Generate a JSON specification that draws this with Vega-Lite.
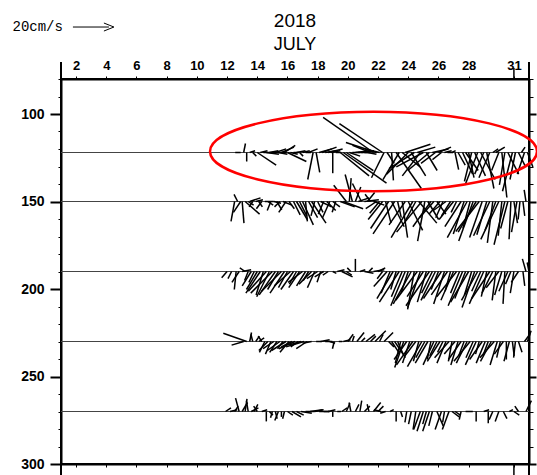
{
  "$schema": "https://vega.github.io/schema/vega-lite/v6.json",
  "width": 468,
  "height": 385,
  "autosize": {"type": "none"},
  "padding": {"left": 61, "top": 79, "right": 8, "bottom": 11},
  "background": "white",
  "config": {
    "view": {"stroke": "black", "strokeWidth": 2},
    "axis": {"grid": false, "labelOverlap": false, "labelFlush": false, "domainColor": "black", "domainWidth": 2, "tickColor": "black", "labelColor": "black"}
  },
  "title": {
    "text": "2018",
    "subtitle": "JULY",
    "anchor": "middle",
    "font": "Liberation Sans",
    "fontSize": 19,
    "fontWeight": "normal",
    "color": "black",
    "subtitleFont": "Liberation Sans",
    "subtitleFontSize": 18,
    "subtitleColor": "black",
    "subtitlePadding": 5,
    "offset": -34
  },
  "datasets": {
    "depths": [{"d": 122}, {"d": 150}, {"d": 190}, {"d": 230}, {"d": 270}],
    "key": [{"t": 0.79, "d": 50.3, "u": 20, "v": 0, "label": "20cm/s"}],
    "sticks": [
      {"t":11.9,"d":122,"u":-3,"v":0},{"t":12.1,"d":122,"u":1,"v":5},{"t":12.3,"d":122,"u":0,"v":-5},{"t":12.5,"d":122,"u":3,"v":1},{"t":12.7,"d":122,"u":2,"v":-2},
      {"t":13.0,"d":122,"u":10.5,"v":-7},{"t":13.2,"d":122,"u":4,"v":1},{"t":13.4,"d":122,"u":6,"v":0},{"t":13.6,"d":122,"u":7,"v":-1},{"t":13.8,"d":122,"u":5,"v":1},
      {"t":14.0,"d":122,"u":8,"v":0},{"t":14.2,"d":122,"u":6,"v":2},{"t":14.4,"d":122,"u":5,"v":-1},{"t":14.6,"d":122,"u":7,"v":3},{"t":14.8,"d":122,"u":6,"v":4},
      {"t":15.0,"d":122,"u":10.5,"v":-5},{"t":15.2,"d":122,"u":4,"v":-1},{"t":15.4,"d":122,"u":3,"v":0},{"t":15.6,"d":122,"u":5,"v":1},{"t":15.8,"d":122,"u":2,"v":-2},
      {"t":16.0,"d":122,"u":4,"v":1},{"t":16.2,"d":122,"u":3,"v":0},{"t":16.4,"d":122,"u":5,"v":2},{"t":16.7,"d":122,"u":-3,"v":-15},{"t":16.9,"d":122,"u":2,"v":-11},
      {"t":17.1,"d":122,"u":7,"v":2},{"t":17.3,"d":122,"u":8,"v":3},{"t":17.5,"d":122,"u":6,"v":1},{"t":17.7,"d":122,"u":8,"v":2},{"t":17.9,"d":122,"u":5,"v":1},
      {"t":18.0,"d":122,"u":0,"v":-11.5},{"t":18.2,"d":122,"u":3,"v":0},{"t":18.5,"d":122,"u":16,"v":-13},{"t":18.7,"d":122,"u":24,"v":-17},{"t":18.9,"d":122,"u":15,"v":-10},
      {"t":19.1,"d":122,"u":6,"v":-2},{"t":19.3,"d":122,"u":4,"v":0},{"t":19.5,"d":122,"u":8,"v":1},{"t":19.7,"d":122,"u":5,"v":0},{"t":19.9,"d":122,"u":7,"v":1},
      {"t":20.1,"d":122,"u":3,"v":0},{"t":20.3,"d":122,"u":5,"v":-1},{"t":20.5,"d":122,"u":-10,"v":4},{"t":20.7,"d":122,"u":-28,"v":19.5},{"t":20.9,"d":122,"u":-17,"v":5.6},
      {"t":21.1,"d":122,"u":-8,"v":2},{"t":21.3,"d":122,"u":-24,"v":16},{"t":21.4,"d":122,"u":-7,"v":-14},{"t":21.6,"d":122,"u":4,"v":-6},{"t":21.9,"d":122,"u":1,"v":-15.5},
      {"t":22.2,"d":122,"u":14,"v":-20},{"t":22.4,"d":122,"u":-9,"v":-15},{"t":22.6,"d":122,"u":10,"v":-8},{"t":22.8,"d":122,"u":14,"v":4.6},{"t":23.0,"d":122,"u":-12,"v":-12},
      {"t":23.2,"d":122,"u":8,"v":-13},{"t":23.4,"d":122,"u":-14,"v":-9},{"t":23.6,"d":122,"u":10,"v":3},{"t":23.8,"d":122,"u":-10,"v":-13},{"t":24.0,"d":122,"u":-15,"v":-8},
      {"t":24.2,"d":122,"u":6,"v":-10},{"t":24.4,"d":122,"u":-12,"v":-10},{"t":24.6,"d":122,"u":9,"v":2},{"t":24.8,"d":122,"u":-8,"v":-6},{"t":25.0,"d":122,"u":7,"v":3},
      {"t":25.2,"d":122,"u":-5,"v":-4},{"t":25.4,"d":122,"u":4,"v":1},{"t":25.6,"d":122,"u":3,"v":0},{"t":25.9,"d":122,"u":2,"v":1},{"t":26.1,"d":122,"u":2,"v":-9.5},
      {"t":26.3,"d":122,"u":4,"v":-7},{"t":26.6,"d":122,"u":5.6,"v":-12},{"t":26.8,"d":122,"u":7,"v":-10},{"t":27.0,"d":122,"u":3,"v":-14},{"t":27.2,"d":122,"u":-4,"v":-16},
      {"t":27.4,"d":122,"u":6,"v":-13},{"t":27.6,"d":122,"u":-7,"v":-18},{"t":27.8,"d":122,"u":8,"v":-15},{"t":28.0,"d":122,"u":-5,"v":-12},{"t":28.2,"d":122,"u":4,"v":-20},
      {"t":28.4,"d":122,"u":-6,"v":-14},{"t":28.6,"d":122,"u":3,"v":2},{"t":28.8,"d":122,"u":5,"v":3},{"t":29.0,"d":122,"u":-4,"v":-10},{"t":29.2,"d":122,"u":2.8,"v":-25},
      {"t":29.4,"d":122,"u":-3,"v":-18},{"t":29.6,"d":122,"u":6,"v":-12},{"t":29.9,"d":122,"u":-5.5,"v":-21.5},{"t":30.1,"d":122,"u":-3,"v":-15},{"t":30.3,"d":122,"u":4,"v":-8},
      {"t":30.5,"d":122,"u":2,"v":3},{"t":30.7,"d":122,"u":-4,"v":-12},{"t":30.9,"d":122,"u":3,"v":-8},

      {"t":11.5,"d":150,"u":-2,"v":-11},{"t":11.7,"d":150,"u":-2,"v":4},{"t":11.9,"d":150,"u":-4,"v":-6},{"t":12.0,"d":150,"u":1,"v":-12},{"t":12.2,"d":150,"u":8,"v":-7},
      {"t":12.4,"d":150,"u":3,"v":-2},{"t":12.5,"d":150,"u":6,"v":2},{"t":12.7,"d":150,"u":-2,"v":-3},{"t":12.9,"d":150,"u":4,"v":1},{"t":13.1,"d":150,"u":2,"v":-3},
      {"t":13.3,"d":150,"u":-3,"v":-4},{"t":13.5,"d":150,"u":5,"v":0},{"t":13.7,"d":150,"u":3,"v":-2},{"t":13.9,"d":150,"u":-2,"v":-5},{"t":14.1,"d":150,"u":4,"v":-1},
      {"t":14.3,"d":150,"u":2.7,"v":-4.6},{"t":14.5,"d":150,"u":-3,"v":-3},{"t":14.7,"d":150,"u":5,"v":-2},{"t":14.9,"d":150,"u":-4,"v":-6},{"t":15.1,"d":150,"u":3,"v":-4},
      {"t":15.4,"d":150,"u":3.7,"v":-7.4},{"t":15.6,"d":150,"u":6,"v":-10},{"t":15.8,"d":150,"u":4,"v":-8},{"t":16.0,"d":150,"u":6,"v":-13},{"t":16.2,"d":150,"u":1,"v":-11},
      {"t":16.4,"d":150,"u":5,"v":-9},{"t":16.6,"d":150,"u":8,"v":-12},{"t":16.8,"d":150,"u":-2,"v":-8},{"t":17.0,"d":150,"u":3,"v":-6},{"t":17.2,"d":150,"u":6,"v":-3},
      {"t":17.4,"d":150,"u":-3,"v":-7},{"t":17.6,"d":150,"u":5,"v":-5},{"t":17.8,"d":150,"u":-4,"v":-9},{"t":18.0,"d":150,"u":4,"v":-3},{"t":18.2,"d":150,"u":-2,"v":-6},
      {"t":18.5,"d":150,"u":8,"v":-3},{"t":18.7,"d":150,"u":11,"v":-4},{"t":18.9,"d":150,"u":-7,"v":9},{"t":19.1,"d":150,"u":1,"v":13},{"t":19.3,"d":150,"u":-4,"v":15},
      {"t":19.5,"d":150,"u":3,"v":8},{"t":19.7,"d":150,"u":6,"v":2},{"t":19.9,"d":150,"u":-5,"v":10},{"t":20.1,"d":150,"u":8,"v":1},{"t":20.3,"d":150,"u":4,"v":5},
      {"t":20.5,"d":150,"u":-3,"v":4},{"t":20.7,"d":150,"u":6,"v":-2},{"t":20.9,"d":150,"u":-6,"v":-4},{"t":21.1,"d":150,"u":-5.5,"v":-6.5},{"t":21.3,"d":150,"u":-8,"v":-10},
      {"t":21.5,"d":150,"u":3,"v":-12},{"t":21.7,"d":150,"u":-10,"v":-15},{"t":21.9,"d":150,"u":7,"v":-14},{"t":22.1,"d":150,"u":-12,"v":-18},{"t":22.3,"d":150,"u":2,"v":-9},
      {"t":22.6,"d":150,"u":3,"v":-20},{"t":22.8,"d":150,"u":-9,"v":-13},{"t":23.0,"d":150,"u":8,"v":-16},{"t":23.3,"d":150,"u":-12,"v":-20},{"t":23.5,"d":150,"u":-6,"v":-11},
      {"t":23.7,"d":150,"u":10,"v":-12},{"t":23.9,"d":150,"u":-14,"v":-17},{"t":24.1,"d":150,"u":-4,"v":-22},{"t":24.3,"d":150,"u":6,"v":-10},{"t":24.5,"d":150,"u":-10,"v":-14},
      {"t":24.7,"d":150,"u":-8,"v":-9},{"t":24.9,"d":150,"u":5,"v":-7},{"t":25.1,"d":150,"u":-6,"v":-7},{"t":25.3,"d":150,"u":-4,"v":-9},{"t":25.5,"d":150,"u":-7,"v":-5},
      {"t":25.8,"d":150,"u":-5,"v":-8},{"t":26.0,"d":150,"u":-8,"v":-10},{"t":26.2,"d":150,"u":-3,"v":-6},{"t":26.5,"d":150,"u":-9,"v":-14},{"t":26.7,"d":150,"u":-6,"v":-18},
      {"t":26.9,"d":150,"u":-11,"v":-20},{"t":27.1,"d":150,"u":-4,"v":-15},{"t":27.3,"d":150,"u":-8,"v":-22},{"t":27.5,"d":150,"u":-10,"v":-17},{"t":27.7,"d":150,"u":-13,"v":-16.7},
      {"t":27.9,"d":150,"u":-7,"v":-20},{"t":28.2,"d":150,"u":-5.5,"v":-18.5},{"t":28.4,"d":150,"u":-9,"v":-19},{"t":28.6,"d":150,"u":-3,"v":-23},{"t":28.8,"d":150,"u":-6,"v":-16},
      {"t":29.0,"d":150,"u":-10,"v":-21},{"t":29.2,"d":150,"u":-2,"v":-19},{"t":29.4,"d":150,"u":-6,"v":-24},{"t":29.6,"d":150,"u":-4,"v":-15},{"t":29.8,"d":150,"u":-1,"v":-21},
      {"t":30.0,"d":150,"u":2,"v":-12},{"t":30.2,"d":150,"u":-3,"v":-17},{"t":30.4,"d":150,"u":-1,"v":-10},{"t":30.6,"d":150,"u":1,"v":-8},{"t":30.8,"d":150,"u":-1,"v":6.5},
      {"t":31.0,"d":150,"u":0,"v":10},

      {"t":11.0,"d":190,"u":-3,"v":-3.5},{"t":11.3,"d":190,"u":-2,"v":-4},{"t":11.6,"d":190,"u":-1,"v":-10},{"t":11.8,"d":190,"u":-4,"v":-6},{"t":12.0,"d":190,"u":5,"v":1},
      {"t":12.2,"d":190,"u":-3,"v":2},{"t":12.4,"d":190,"u":-2,"v":-5},{"t":12.6,"d":190,"u":-5,"v":-8},{"t":12.8,"d":190,"u":-3,"v":-6},{"t":13.0,"d":190,"u":-6,"v":-10},
      {"t":13.2,"d":190,"u":-8,"v":-12},{"t":13.4,"d":190,"u":-4,"v":-13},{"t":13.6,"d":190,"u":-10,"v":-11},{"t":13.8,"d":190,"u":-7,"v":-14},{"t":14.0,"d":190,"u":-12,"v":-12},
      {"t":14.2,"d":190,"u":-9,"v":-13},{"t":14.4,"d":190,"u":-6,"v":-10},{"t":14.6,"d":190,"u":-11,"v":-11},{"t":14.8,"d":190,"u":-8,"v":-12},{"t":15.0,"d":190,"u":-5,"v":-9},
      {"t":15.2,"d":190,"u":-9,"v":-8},{"t":15.4,"d":190,"u":-7,"v":-10},{"t":15.6,"d":190,"u":-4,"v":-7},{"t":15.8,"d":190,"u":-6,"v":-9},{"t":16.0,"d":190,"u":-8,"v":-6},
      {"t":16.2,"d":190,"u":-5,"v":-8},{"t":16.4,"d":190,"u":-3,"v":-5},{"t":16.6,"d":190,"u":-7,"v":-7},{"t":16.8,"d":190,"u":-4,"v":-9},{"t":17.0,"d":190,"u":-6,"v":-4},
      {"t":17.2,"d":190,"u":-2,"v":-6},{"t":17.4,"d":190,"u":-5,"v":-3},{"t":17.7,"d":190,"u":-3,"v":-2},{"t":18.0,"d":190,"u":2,"v":-1},{"t":18.3,"d":190,"u":4,"v":1},
      {"t":18.6,"d":190,"u":6,"v":-3},{"t":18.9,"d":190,"u":3,"v":-2},{"t":19.2,"d":190,"u":-2,"v":2},{"t":19.5,"d":190,"u":0,"v":7},{"t":19.8,"d":190,"u":3,"v":1},
      {"t":20.1,"d":190,"u":5,"v":-1},{"t":20.4,"d":190,"u":2,"v":2},{"t":20.7,"d":190,"u":6,"v":1},{"t":21.0,"d":190,"u":4,"v":2},{"t":21.3,"d":190,"u":-3,"v":-4},
      {"t":21.6,"d":190,"u":-7.4,"v":-8.3},{"t":21.8,"d":190,"u":-5,"v":-12},{"t":22.0,"d":190,"u":-9,"v":-15},{"t":22.2,"d":190,"u":-3,"v":-10},{"t":22.4,"d":190,"u":-11,"v":-17},
      {"t":22.6,"d":190,"u":-6,"v":-14},{"t":22.8,"d":190,"u":-8,"v":-19},{"t":23.0,"d":190,"u":-4,"v":-12},{"t":23.2,"d":190,"u":-10,"v":-18},{"t":23.4,"d":190,"u":-3.7,"v":-21},
      {"t":23.6,"d":190,"u":-12,"v":-16},{"t":23.8,"d":190,"u":-7,"v":-20},{"t":24.0,"d":190,"u":-9,"v":-14},{"t":24.2,"d":190,"u":-5,"v":-17},{"t":24.4,"d":190,"u":-13,"v":-19},
      {"t":24.6,"d":190,"u":-6,"v":-12},{"t":24.8,"d":190,"u":-8,"v":-16},{"t":25.0,"d":190,"u":-4,"v":-10},{"t":25.2,"d":190,"u":-10,"v":-15},{"t":25.4,"d":190,"u":-6,"v":-18},
      {"t":25.6,"d":190,"u":-9,"v":-13},{"t":25.8,"d":190,"u":-3,"v":-11},{"t":26.0,"d":190,"u":-7,"v":-16},{"t":26.2,"d":190,"u":-11,"v":-14},{"t":26.4,"d":190,"u":-5,"v":-12},
      {"t":26.6,"d":190,"u":-8,"v":-19},{"t":26.8,"d":190,"u":-6,"v":-15},{"t":27.0,"d":190,"u":-10,"v":-17},{"t":27.2,"d":190,"u":-4,"v":-13},{"t":27.4,"d":190,"u":-7,"v":-20},
      {"t":27.6,"d":190,"u":-9,"v":-16},{"t":27.8,"d":190,"u":-5,"v":-11},{"t":28.0,"d":190,"u":-8,"v":-18},{"t":28.2,"d":190,"u":-3,"v":-14},{"t":28.4,"d":190,"u":-10,"v":-15},
      {"t":28.6,"d":190,"u":-6,"v":-12},{"t":28.8,"d":190,"u":-2,"v":-16},{"t":29.0,"d":190,"u":-7,"v":-9},{"t":29.2,"d":190,"u":-4,"v":-13},{"t":29.4,"d":190,"u":-1,"v":-18},
      {"t":29.6,"d":190,"u":-5,"v":-11},{"t":29.8,"d":190,"u":-3,"v":-7},{"t":30.0,"d":190,"u":-2,"v":-12},{"t":30.3,"d":190,"u":-4,"v":-6},{"t":30.6,"d":190,"u":1,"v":-8},
      {"t":30.8,"d":190,"u":-2,"v":7},{"t":31.0,"d":190,"u":-1,"v":5},

      {"t":12.1,"d":230,"u":-6.7,"v":-2},{"t":12.3,"d":230,"u":-13,"v":4.6},{"t":12.5,"d":230,"u":1,"v":5},{"t":12.7,"d":230,"u":-1,"v":4},{"t":12.9,"d":230,"u":2,"v":3},
      {"t":13.1,"d":230,"u":3,"v":2},{"t":13.3,"d":230,"u":-2,"v":3},{"t":13.5,"d":230,"u":-3,"v":-6},{"t":13.7,"d":230,"u":-5,"v":-5},{"t":13.9,"d":230,"u":-3,"v":-7},
      {"t":14.1,"d":230,"u":-6,"v":-4},{"t":14.3,"d":230,"u":-4,"v":-6},{"t":14.5,"d":230,"u":-7,"v":-5},{"t":14.7,"d":230,"u":-3,"v":-4},{"t":14.9,"d":230,"u":-8,"v":-5},
      {"t":15.1,"d":230,"u":-5,"v":-6},{"t":15.3,"d":230,"u":-6,"v":-3},{"t":15.5,"d":230,"u":-9,"v":-4},{"t":15.7,"d":230,"u":-4,"v":-3},{"t":15.9,"d":230,"u":-7,"v":-2},
      {"t":16.1,"d":230,"u":-10,"v":-3},{"t":16.3,"d":230,"u":-6,"v":-4},{"t":16.6,"d":230,"u":-5,"v":-1},{"t":16.9,"d":230,"u":3,"v":0},{"t":17.2,"d":230,"u":5,"v":1},
      {"t":17.5,"d":230,"u":4,"v":0},{"t":17.8,"d":230,"u":3,"v":-1},{"t":18.1,"d":230,"u":-1,"v":-4},{"t":18.4,"d":230,"u":2,"v":0},{"t":18.7,"d":230,"u":4,"v":1},
      {"t":19.0,"d":230,"u":3,"v":4},{"t":19.3,"d":230,"u":1,"v":3},{"t":19.6,"d":230,"u":4,"v":5},{"t":19.9,"d":230,"u":2,"v":2},{"t":20.2,"d":230,"u":5,"v":4},
      {"t":20.5,"d":230,"u":3,"v":3},{"t":20.8,"d":230,"u":6,"v":6},{"t":21.1,"d":230,"u":2,"v":4},{"t":21.4,"d":230,"u":5,"v":5},{"t":21.7,"d":230,"u":3,"v":-3},
      {"t":21.9,"d":230,"u":4,"v":-6},{"t":22.1,"d":230,"u":6,"v":-9},{"t":22.3,"d":230,"u":3,"v":-7},{"t":22.5,"d":230,"u":-3,"v":-12},{"t":22.7,"d":230,"u":-5,"v":-14.5},
      {"t":22.9,"d":230,"u":-7,"v":-10},{"t":23.1,"d":230,"u":-4,"v":-12},{"t":23.3,"d":230,"u":-9,"v":-13},{"t":23.5,"d":230,"u":-6,"v":-8},{"t":23.7,"d":230,"u":-3,"v":-11},
      {"t":23.9,"d":230,"u":-8,"v":-14},{"t":24.1,"d":230,"u":-5,"v":-9},{"t":24.3,"d":230,"u":-7,"v":-12},{"t":24.5,"d":230,"u":-2,"v":-10},{"t":24.7,"d":230,"u":-6,"v":-13},
      {"t":24.9,"d":230,"u":-4,"v":-8},{"t":25.1,"d":230,"u":-7,"v":-11},{"t":25.3,"d":230,"u":-3,"v":-6},{"t":25.5,"d":230,"u":-5,"v":-12},{"t":25.7,"d":230,"u":-8,"v":-9},
      {"t":25.9,"d":230,"u":-2,"v":-11},{"t":26.1,"d":230,"u":-6,"v":-7},{"t":26.3,"d":230,"u":-4,"v":-13},{"t":26.5,"d":230,"u":-7,"v":-10},{"t":26.7,"d":230,"u":-3,"v":-8},
      {"t":26.9,"d":230,"u":-6,"v":-12},{"t":27.1,"d":230,"u":-9,"v":-11},{"t":27.3,"d":230,"u":-4,"v":-9},{"t":27.5,"d":230,"u":-6,"v":-13},{"t":27.7,"d":230,"u":-2,"v":-7},
      {"t":27.9,"d":230,"u":-7,"v":-10},{"t":28.1,"d":230,"u":-5,"v":-12},{"t":28.3,"d":230,"u":-3,"v":-8},{"t":28.5,"d":230,"u":-6,"v":-11},{"t":28.7,"d":230,"u":-8,"v":-9},
      {"t":28.9,"d":230,"u":-4,"v":-13},{"t":29.1,"d":230,"u":-2,"v":-9},{"t":29.3,"d":230,"u":-5,"v":-7},{"t":29.5,"d":230,"u":0,"v":-10},{"t":29.7,"d":230,"u":-3,"v":-11},
      {"t":29.9,"d":230,"u":1,"v":-8},{"t":30.1,"d":230,"u":-1,"v":-9},{"t":30.3,"d":230,"u":2,"v":-6},{"t":30.7,"d":230,"u":3,"v":4},{"t":30.9,"d":230,"u":2,"v":6},

      {"t":10.9,"d":270,"u":3,"v":2},{"t":11.2,"d":270,"u":4,"v":1},{"t":11.5,"d":270,"u":2,"v":3},{"t":11.8,"d":270,"u":-2,"v":7.4},{"t":12.0,"d":270,"u":3,"v":5},
      {"t":12.2,"d":270,"u":1,"v":7},{"t":12.4,"d":270,"u":-1,"v":6},{"t":12.6,"d":270,"u":4,"v":2},{"t":12.8,"d":270,"u":2,"v":4},{"t":13.0,"d":270,"u":-2,"v":3},
      {"t":13.3,"d":270,"u":3,"v":1},{"t":13.6,"d":270,"u":0,"v":-5.5},{"t":13.8,"d":270,"u":2,"v":-2},{"t":14.0,"d":270,"u":-1,"v":-3.5},{"t":14.2,"d":270,"u":1,"v":-4},
      {"t":14.4,"d":270,"u":-2,"v":-5},{"t":14.6,"d":270,"u":0,"v":-3},{"t":14.8,"d":270,"u":-1,"v":-4},{"t":15.0,"d":270,"u":3,"v":-2},{"t":15.3,"d":270,"u":5,"v":-3},
      {"t":15.6,"d":270,"u":4,"v":-2},{"t":15.9,"d":270,"u":6,"v":-1},{"t":16.2,"d":270,"u":5,"v":0},{"t":16.5,"d":270,"u":7,"v":1},{"t":16.8,"d":270,"u":5,"v":1},
      {"t":17.1,"d":270,"u":6,"v":0},{"t":17.4,"d":270,"u":3,"v":0},{"t":17.7,"d":270,"u":4,"v":1},{"t":18.0,"d":270,"u":0,"v":-3},{"t":18.3,"d":270,"u":2,"v":0},
      {"t":18.6,"d":270,"u":3,"v":2},{"t":18.9,"d":270,"u":2,"v":4.6},{"t":19.2,"d":270,"u":-1,"v":5},{"t":19.5,"d":270,"u":2,"v":4},{"t":19.8,"d":270,"u":1,"v":6},
      {"t":20.1,"d":270,"u":3,"v":3},{"t":20.4,"d":270,"u":-1,"v":4},{"t":20.7,"d":270,"u":4,"v":5},{"t":21.0,"d":270,"u":3,"v":3},{"t":21.2,"d":270,"u":-4,"v":1},
      {"t":21.5,"d":270,"u":-3,"v":-1},{"t":21.8,"d":270,"u":2,"v":1},{"t":22.2,"d":270,"u":0,"v":-5.5},{"t":22.5,"d":270,"u":1,"v":-3},{"t":22.9,"d":270,"u":-1,"v":-6},
      {"t":23.2,"d":270,"u":-1.5,"v":-7},{"t":23.5,"d":270,"u":-1.5,"v":-10},{"t":23.8,"d":270,"u":-3.7,"v":-10},{"t":24.0,"d":270,"u":-3.5,"v":-11},{"t":24.2,"d":270,"u":-2,"v":-7},
      {"t":24.4,"d":270,"u":-3.7,"v":-11},{"t":24.6,"d":270,"u":-2,"v":-8},{"t":24.9,"d":270,"u":3.5,"v":-8},{"t":25.2,"d":270,"u":-3.5,"v":-10},{"t":25.4,"d":270,"u":-1,"v":-6},
      {"t":25.7,"d":270,"u":-3.7,"v":-10},{"t":25.9,"d":270,"u":4,"v":-3},{"t":26.1,"d":270,"u":3,"v":-2},{"t":26.5,"d":270,"u":-1,"v":-4.5},{"t":26.8,"d":270,"u":4,"v":0},
      {"t":27.5,"d":270,"u":0,"v":-5.5},{"t":28.0,"d":270,"u":3,"v":1},{"t":28.3,"d":270,"u":0,"v":-6.5},{"t":28.6,"d":270,"u":-2,"v":-4.5},{"t":29.0,"d":270,"u":-2,"v":-5.5},
      {"t":29.3,"d":270,"u":2,"v":-4},{"t":29.7,"d":270,"u":2,"v":1},{"t":30.0,"d":270,"u":3,"v":-2},{"t":30.3,"d":270,"u":-2,"v":3},{"t":30.8,"d":270,"u":3,"v":6}
    ]
  },
  "resolve": {"axis": {"x": "independent", "y": "independent"}},
  "layer": [
    {
      "data": {"name": "depths"},
      "mark": {"type": "rule", "stroke": "#444444", "strokeWidth": 1},
      "encoding": {
        "y": {"field": "d", "type": "quantitative", "scale": {"domain": [80, 300], "reverse": true, "nice": false, "zero": false},
          "axis": {"orient": "right", "title": null, "values": [80, 90, 100, 110, 120, 130, 140, 150, 160, 170, 180, 190, 200, 210, 220, 230, 240, 250, 260, 270, 280, 290, 300], "labels": false,
            "tickSize": {"condition": {"test": "datum.value % 50 === 0", "value": 7}, "value": 4},
            "tickWidth": {"condition": {"test": "datum.value % 50 === 0", "value": 2}, "value": 1}}}
      }
    },
    {
      "data": {"name": "sticks"},
      "transform": [
        {"calculate": "datum.t + datum.u * 0.1192", "as": "t2"},
        {"calculate": "datum.d - datum.v * 1.029", "as": "d2"}
      ],
      "mark": {"type": "rule", "stroke": "black", "strokeWidth": 1.5},
      "encoding": {
        "x": {"field": "t", "type": "quantitative", "scale": {"domain": [0, 31], "nice": false, "zero": false},
          "axis": {"orient": "top", "title": null, "values": [1, 3, 5, 7, 9, 11, 13, 15, 17, 19, 21, 23, 25, 27, 30], "labelExpr": "datum.value + 1",
            "tickSize": 3, "tickWidth": 1, "labelPadding": 4, "labelFont": "Liberation Sans", "labelFontSize": 13, "labelFontWeight": "bold"}},
        "x2": {"field": "t2"},
        "y": {"field": "d", "type": "quantitative", "scale": {"domain": [80, 300], "reverse": true, "nice": false, "zero": false},
          "axis": {"orient": "left", "title": null, "values": [80, 90, 100, 110, 120, 130, 140, 150, 160, 170, 180, 190, 200, 210, 220, 230, 240, 250, 260, 270, 280, 290, 300],
            "labelExpr": "datum.value % 50 === 0 ? datum.value : ''",
            "tickSize": {"condition": {"test": "datum.value % 50 === 0", "value": 11}, "value": 3},
            "tickWidth": {"condition": {"test": "datum.value % 50 === 0", "value": 2}, "value": 1},
            "labelPadding": 6, "labelFont": "Liberation Sans", "labelFontSize": 14, "labelFontWeight": "bold"}},
        "y2": {"field": "d2"}
      }
    },
    {
      "data": {"values": [{"t": 0}, {"t": 31}]},
      "mark": {"type": "rule", "stroke": "black", "strokeWidth": 2},
      "encoding": {
        "x": {"field": "t", "type": "quantitative", "scale": {"domain": [0, 31], "nice": false, "zero": false},
          "axis": {"orient": "bottom", "title": null, "values": [1, 3, 5, 7, 9, 11, 13, 15, 17, 19, 21, 23, 25, 27, 30], "labels": false, "tickSize": 3, "tickWidth": 1}},
        "y": {"datum": 70.3, "type": "quantitative", "scale": {"domain": [80, 300], "reverse": true, "nice": false, "zero": false}, "axis": null},
        "y2": {"datum": 80}
      }
    },
    {
      "data": {"values": [{"t": 0}, {"t": 31}]},
      "mark": {"type": "rule", "stroke": "black", "strokeWidth": 2},
      "encoding": {
        "x": {"field": "t", "type": "quantitative", "scale": {"domain": [0, 31], "nice": false, "zero": false}, "axis": null},
        "y": {"datum": 300, "type": "quantitative", "scale": {"domain": [80, 300], "reverse": true, "nice": false, "zero": false}, "axis": null},
        "y2": {"datum": 308}
      }
    },
    {
      "data": {"values": [{"t": 30}]},
      "mark": {"type": "rule", "stroke": "black", "strokeWidth": 1.5},
      "encoding": {
        "x": {"field": "t", "type": "quantitative", "scale": {"domain": [0, 31], "nice": false, "zero": false}, "axis": null},
        "y": {"datum": 73.7, "type": "quantitative", "scale": {"domain": [80, 300], "reverse": true, "nice": false, "zero": false}, "axis": null},
        "y2": {"datum": 80}
      }
    },
    {
      "data": {"values": [{"t": 30}]},
      "mark": {"type": "rule", "stroke": "black", "strokeWidth": 1.5},
      "encoding": {
        "x": {"field": "t", "type": "quantitative", "scale": {"domain": [0, 31], "nice": false, "zero": false}, "axis": null},
        "y": {"datum": 300, "type": "quantitative", "scale": {"domain": [80, 300], "reverse": true, "nice": false, "zero": false}, "axis": null},
        "y2": {"datum": 308}
      }
    },
    {
      "data": {"name": "key"},
      "transform": [
        {"calculate": "datum.t + datum.u * 0.1192", "as": "t2"},
        {"calculate": "datum.d - datum.v * 1.029", "as": "d2"}
      ],
      "layer": [
        {
          "mark": {"type": "rule", "stroke": "black", "strokeWidth": 1},
          "encoding": {
            "x": {"field": "t", "type": "quantitative", "scale": {"domain": [0, 31], "nice": false, "zero": false}, "axis": null},
            "x2": {"field": "t2"},
            "y": {"field": "d", "type": "quantitative", "scale": {"domain": [80, 300], "reverse": true, "nice": false, "zero": false}, "axis": null},
            "y2": {"field": "d2"}
          }
        },
        {
          "mark": {"type": "point", "shape": "M -1 -0.8 L 1 0 L -1 0.8", "size": 100, "filled": false, "stroke": "black", "strokeWidth": 1, "opacity": 1},
          "encoding": {
            "x": {"field": "t2", "type": "quantitative", "scale": {"domain": [0, 31], "nice": false, "zero": false}, "axis": null},
            "y": {"field": "d2", "type": "quantitative", "scale": {"domain": [80, 300], "reverse": true, "nice": false, "zero": false}, "axis": null}
          }
        },
        {
          "mark": {"type": "text", "align": "right", "baseline": "middle", "dx": -10, "font": "Liberation Mono", "fontSize": 14, "fill": "black"},
          "encoding": {
            "x": {"field": "t", "type": "quantitative", "scale": {"domain": [0, 31], "nice": false, "zero": false}, "axis": null},
            "y": {"field": "d", "type": "quantitative", "scale": {"domain": [80, 300], "reverse": true, "nice": false, "zero": false}, "axis": null},
            "text": {"field": "label"}
          }
        }
      ]
    },
    {
      "data": {"values": [{}]},
      "mark": {"type": "point", "shape": "M 1 0 C 1 0.134 0.552 0.243 0 0.243 C -0.552 0.243 -1 0.134 -1 0 C -1 -0.134 -0.552 -0.243 0 -0.243 C 0.552 -0.243 1 -0.134 1 0 Z", "size": 106929, "filled": false, "stroke": "#ff0000", "strokeWidth": 2.5, "opacity": 1},
      "encoding": {
        "x": {"datum": 20.7, "type": "quantitative", "scale": {"domain": [0, 31], "nice": false, "zero": false}, "axis": null},
        "y": {"datum": 121.4, "type": "quantitative", "scale": {"domain": [80, 300], "reverse": true, "nice": false, "zero": false}, "axis": null}
      }
    }
  ]
}
